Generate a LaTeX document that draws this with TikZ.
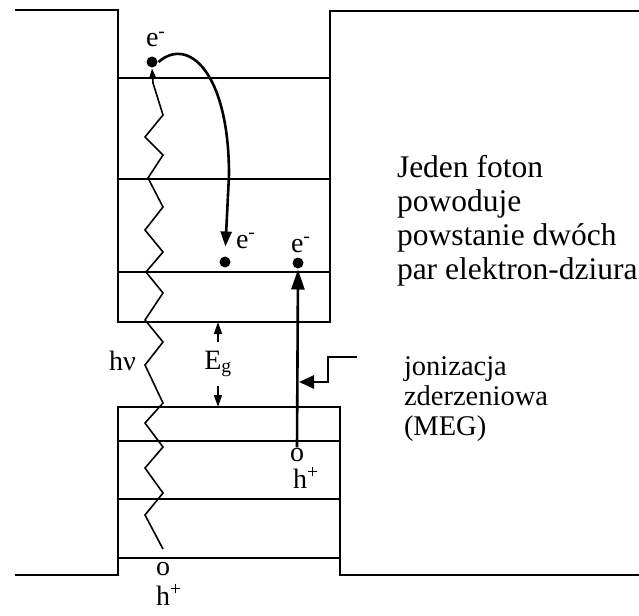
\documentclass[tikz,border=0pt]{standalone}
\usepackage{fontspec}
\setmainfont{Liberation Serif}
\usetikzlibrary{arrows.meta, positioning}

\begin{document}
\begin{tikzpicture}[x=1pt, y=-1pt, line width=2pt, line join=miter,
    dot/.style={circle, fill, inner sep=0pt, minimum size=11pt},
    lab/.style={inner sep=0pt, font=\fontsize{28}{30}\selectfont},
    note/.style={inner sep=0pt, align=left, anchor=base west},
    arr/.style={line width=2.6pt, -{Triangle[length=15pt, width=11pt]}}]

    \useasboundingbox (0,0) rectangle (639,615);

    % --- Conduction band (quantum dot levels) ---
    \draw (15,10) -- (118,10) -- (118,322) -- (330,322) -- (330,11) -- (639,11);
    \draw (118,78) -- (330,78);
    \draw (118,179) -- (330,179);
    \draw (118,272) -- (330,272);

    % --- Valence band ---
    \draw (15,575) -- (118,575) -- (118,407) -- (340,407) -- (340,575) -- (639,575);
    \draw (118,441) -- (340,441);
    \draw (118,499) -- (340,499);
    \draw (118,558) -- (340,558);

    % --- Electrons and holes ---
    \node[dot] (e1) at (152,62) {};
    \node[dot] (e2) at (225,262) {};
    \node[dot] (e3) at (298,263) {};
    \node[lab] (h1) at (297,455) {o};
    \node[lab] (h0) at (163,569) {o};

    \node[lab, anchor=base west] (e1lab) at (145,47) {e\textsuperscript{-}};
    \node[lab, anchor=base west] (e2lab) at (235,248) {e\textsuperscript{-}};
    \node[lab, anchor=base west] (e3lab) at (290,252) {e\textsuperscript{-}};
    \node[lab, anchor=base west] (h1lab) at (292,488) {h\textsuperscript{+}};
    \node[lab, anchor=base west] (h0lab) at (155,605) {h\textsuperscript{+}};
    \node[lab, anchor=base west] (hnu) at (108,370) {hν};

    % --- Photon (zigzag) ---
    \coordinate (zz0) at (163,549);
    \draw[line width=1.6pt, -{Triangle[length=10pt, width=7pt]}]
        (zz0) -- (145,515) -- (163,493) -- (145,468) -- (163,447) -- (145,423)
        -- (163,403) -- (145,365) -- (163,342) -- (145,320) -- (163,293)
        -- (146,272) -- (163,252) -- (145,230) -- (163,207) -- (148,178)
        -- (163,155) -- (145,137) -- (163,115) -- (153,83) -- (e1.south);

    % --- Relaxation of the hot electron ---
    \draw[arr, shorten >=9pt] (e1.east) .. controls (188,36) and (229,72) .. (229,175)
        -- (e2.north);

    % --- Impact ionization: new electron-hole pair ---
    \draw[arr, -{Triangle[length=20pt, width=13pt]}] (h1.north) -- (e3.south);

    % --- Band gap ---
    \node[lab, minimum height=42pt] (eg) at (218,364) {E\textsubscript{g}};
    \coordinate (cbedge) at (218,322);
    \coordinate (vbedge) at (218,407);
    \draw[line width=1.6pt, -{Triangle[length=12pt, width=8pt]}] (eg.north) -- (cbedge);
    \draw[line width=1.6pt, -{Triangle[length=12pt, width=8pt]}] (eg.south) -- (vbedge);

    % --- Pointer to the ionization step ---
    \coordinate (stepin) at (357,357);
    \coordinate (stepout) at (299,382);
    \draw[arr, -{Triangle[length=15pt, width=13pt]}] (stepin) -- (328,357) |- (stepout);

    % --- Descriptions ---
    \node[note, font=\fontsize{31.5}{34}\selectfont] (photon)
        at (396,279) {Jeden foton\\powoduje\\powstanie dwóch\\par elektron-dziura};
    \node[note, font=\fontsize{28.5}{30}\selectfont] (meg)
        at (403,435) {jonizacja\\zderzeniowa\\(MEG)};

\end{tikzpicture}
\end{document}
